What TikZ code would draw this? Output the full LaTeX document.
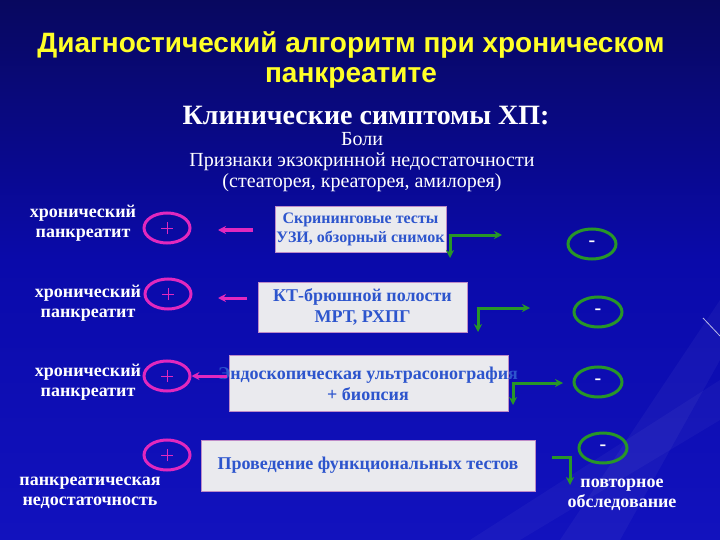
\documentclass[tikz,border=0pt]{standalone}
\usepackage{fontspec}
\setmainfont{Liberation Serif}
\newfontfamily\titlefont{Liberation Sans}
\usetikzlibrary{arrows.meta,shapes.geometric}
\definecolor{bgtop}{RGB}{8,8,95}
\definecolor{bgmid}{RGB}{10,10,170}
\definecolor{bgbot}{RGB}{18,18,190}
\definecolor{ttl}{RGB}{255,255,40}
\definecolor{pinkc}{RGB}{225,40,190}
\definecolor{greenc}{RGB}{40,150,40}
\definecolor{boxfill}{RGB}{234,234,238}
\definecolor{boxtext}{RGB}{45,85,205}
\definecolor{boxedge}{RGB}{190,140,200}
\tikzset{
  lbl/.style={text=white,font=\bfseries\fontsize{18}{19.5}\selectfont,align=center},
  plusell/.style={draw=pinkc,line width=3pt,ellipse,minimum width=46pt,minimum height=30pt,inner sep=0pt},
  minusell/.style={draw=greenc,line width=3pt,ellipse,minimum width=48pt,minimum height=30pt,inner sep=0pt,text=white,font=\bfseries\fontsize{20}{20}\selectfont},
  testbox/.style={draw=boxedge,line width=1pt,fill=boxfill,text=boxtext,align=center,inner sep=0pt},
  parrow/.style={pinkc,line width=3pt,-{Stealth[length=8pt,width=8pt]}},
  garrow/.style={greenc,line width=3pt,-{Stealth[length=8pt,width=8pt]}}
}
\begin{document}
\begin{tikzpicture}[x=1pt,y=-1pt]
\useasboundingbox (0,0) rectangle (720,540);
\shade[top color=bgtop,bottom color=bgmid] (0,0) rectangle (720,260);
\shade[top color=bgmid,bottom color=bgbot] (0,260) rectangle (720,540);
% faint light rays at right
\fill[white,opacity=0.04] (720,300) -- (560,540) -- (620,540) -- (720,360) -- cycle;
\fill[white,opacity=0.035] (720,380) -- (470,540) -- (520,540) -- (720,420) -- cycle;
\draw[white,opacity=0.7,line width=0.8pt] (703,318) -- (720,336);
% title
\node[text=ttl,font=\titlefont\bfseries\fontsize{28}{30}\selectfont,align=center] (title) at (351,60) {Диагностический алгоритм при хроническом\\панкреатите};
\node[text=white,font=\bfseries\fontsize{28}{30}\selectfont] (clin) at (366,116) {Клинические симптомы ХП:};
\node[text=white,font=\fontsize{20}{21}\selectfont,align=center] (symp) at (362,162) {Боли\\Признаки экзокринной недостаточности\\(стеаторея, креаторея, амилорея)};
% left labels
\node[lbl] (l1) at (83,223) {хронический\\панкреатит};
\node[lbl] (l2) at (88,303) {хронический\\панкреатит};
\node[lbl] (l3) at (88,382) {хронический\\панкреатит};
\node[lbl] (l4) at (90,493) {панкреатическая\\недостаточность};
% plus ellipses
\node[plusell] (p1) at (167,228) {};
\node[plusell] (p2) at (168,294) {};
\node[plusell] (p3) at (167,376) {};
\node[plusell] (p4) at (167,455) {};
\foreach \p in {p1,p2,p3,p4}{
  \draw[pinkc,line width=0.7pt] ([xshift=-6pt]\p.center) -- ([xshift=6pt]\p.center);
  \draw[pinkc,line width=0.7pt] ([yshift=-6pt]\p.center) -- ([yshift=6pt]\p.center);
}
% boxes
\node[testbox,minimum width=171pt,minimum height=45pt,font=\bfseries\fontsize{16}{19}\selectfont] (b1) at (360.5,229.5) {Скрининговые тесты\\УЗИ, обзорный снимок};
\node[testbox,minimum width=209pt,minimum height=50pt,font=\bfseries\fontsize{18}{21}\selectfont] (b2) at (362.5,307) {КТ-брюшной полости\\МРТ, РХПГ};
\node[testbox,minimum width=279pt,minimum height=56pt] (b3) at (368.5,383.5) {};
\node[text=boxtext,align=center,font=\bfseries\fontsize{18}{21}\selectfont] (b3t) at (368,384) {Эндоскопическая ультрасонография\\+ биопсия};
\node[testbox,minimum width=334pt,minimum height=51pt,font=\bfseries\fontsize{18}{20}\selectfont] (b4) at (368,465.5) {Проведение функциональных тестов};
% pink arrows
\coordinate (pa1) at (253,230);
\coordinate (pe1) at (218,230);
\coordinate (pa2) at (247,298);
\coordinate (pe2) at (218,298);
\coordinate (pa3) at (227,376);
\draw[parrow] (pa1) -- (pe1);
\draw[parrow] (pa2) -- (pe2);
\draw[parrow] (pa3) -- (p3.east);
% minus ellipses
\node[minusell] (m1) at (592,244) {-};
\node[minusell] (m2) at (598,312) {-};
\node[minusell] (m3) at (598,382) {-};
\node[minusell] (m4) at (603,448) {-};
% green arrows
\coordinate (c1) at (450,235);
\coordinate (c2) at (478,308);
\coordinate (c3) at (513,383);
\coordinate (c4a) at (552,457);
\coordinate (c4) at (570,457);
\draw[garrow] ([xshift=-1.5pt]c1) -- (502,235);
\draw[garrow] (c1) -- (450,258);
\draw[garrow] ([xshift=-1.5pt]c2) -- (530,308);
\draw[garrow] (c2) -- (478,332);
\draw[garrow] ([xshift=-1.5pt]c3) -- (563,383);
\draw[garrow] (c3) -- (513,405);
\draw[garrow] (c4a) -- (c4) -- (570,485);
% repeat exam
\node[lbl] (rep) at (622,495) {повторное\\обследование};
\end{tikzpicture}
\end{document}
